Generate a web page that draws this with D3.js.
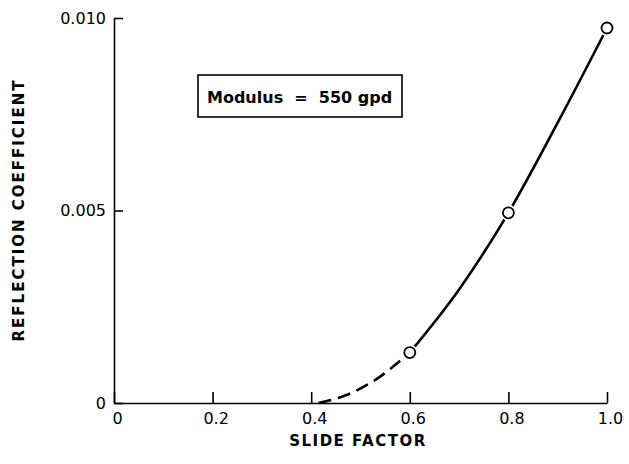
<!DOCTYPE html>
<html>
<head>
<meta charset="utf-8">
<script src="https://cdn.jsdelivr.net/npm/d3@7"></script>
<style>
  body { margin: 0; background: #fff; }
  svg { display: block; }
  text { font-family: "DejaVu Sans", sans-serif; fill: #000; }
</style>
</head>
<body>
<div id="app"></div>
<script>
// measured points
let pointX = [0.6, 0.8, 1.0];
let pointY = [0.00131, 0.00494, 0.00974];

// faired curve, dashed part then solid part
let dashX = [0.415, 0.47, 0.53, 0.6];
let dashY = [0.0, 0.0002, 0.0006, 0.00131];
let solidX = [0.6, 0.7, 0.8, 0.9, 1.0];
let solidY = [0.00131, 0.00295, 0.00494, 0.00728, 0.00974];

let xTicks = [0, 0.2, 0.4, 0.6, 0.8, 1.0];
let xTickLabels = ['0', '0.2', '0.4', '0.6', '0.8', '1.0'];
let yTicks = [0, 0.005, 0.010];
let yTickLabels = ['0', '0.005', '0.010'];

let legendText = 'Modulus  =  550 gpd';

let width = 629;
let height = 464;

let xScale = d3.scaleLinear()
               .domain([0, 1.0])
               .range([114, 607])

let yScale = d3.scaleLinear()
               .domain([0, 0.010])
               .range([403, 18])

let svg = d3.select('#app').append('svg')
    .attr('width', width)
    .attr('height', height)

// x axis, ticks pointing up into the plot
let xAxis = d3.axisBottom(xScale)
    .tickValues(xTicks)
    .tickFormat((d, i) => xTickLabels[i])
    .tickSize(-11)
    .tickSizeOuter(0)
    .tickPadding(10)

let gx = svg.append('g')
    .attr('transform', 'translate(0,' + yScale(0) + ')')
    .call(xAxis)
gx.select('.domain').attr('stroke', '#000').attr('stroke-width', 1.6)
gx.selectAll('.tick line').attr('stroke', '#000').attr('stroke-width', 1.6)
gx.selectAll('.tick text')
    .style('font-family', '"DejaVu Sans", sans-serif')
    .style('font-size', '16px')
    .attr('dx', 3)

// y axis, ticks pointing right into the plot
let yAxis = d3.axisLeft(yScale)
    .tickValues(yTicks)
    .tickFormat((d, i) => yTickLabels[i])
    .tickSize(-9)
    .tickSizeOuter(0)
    .tickPadding(8)

let gy = svg.append('g')
    .attr('transform', 'translate(' + xScale(0) + ',0)')
    .call(yAxis)
gy.select('.domain').attr('stroke', '#000').attr('stroke-width', 1.6)
gy.selectAll('.tick line').attr('stroke', '#000').attr('stroke-width', 1.6)
gy.selectAll('.tick text')
    .style('font-family', '"DejaVu Sans", sans-serif')
    .style('font-size', '16px')

// axis titles
svg.append('text')
    .attr('x', 358)
    .attr('y', 446)
    .attr('text-anchor', 'middle')
    .style('font-size', '15px')
    .style('font-weight', 'bold')
    .style('letter-spacing', '1.5px')
    .text('SLIDE FACTOR')

svg.append('text')
    .attr('transform', 'translate(24,' + 210 + ') rotate(-90)')
    .attr('text-anchor', 'middle')
    .style('font-size', '15px')
    .style('font-weight', 'bold')
    .style('letter-spacing', '2px')
    .text('REFLECTION  COEFFICIENT')

// curve
let line = d3.line()
    .x(d => xScale(d[0]))
    .y(d => yScale(d[1]))
    .curve(d3.curveMonotoneX)

svg.append('path')
    .datum(dashX.map((x, i) => [x, dashY[i]]))
    .attr('d', line)
    .attr('fill', 'none')
    .attr('stroke', '#000')
    .attr('stroke-width', 2.6)
    .attr('stroke-dasharray', '13,7')

svg.append('path')
    .datum(solidX.map((x, i) => [x, solidY[i]]))
    .attr('d', line)
    .attr('fill', 'none')
    .attr('stroke', '#000')
    .attr('stroke-width', 2.6)

// open circles with white halo to leave gap in the line
svg.selectAll('circle.pt')
    .data(pointX.map((x, i) => [x, pointY[i]]))
    .enter()
    .append('circle')
      .attr('class', 'pt')
      .attr('cx', d => xScale(d[0]))
      .attr('cy', d => yScale(d[1]))
      .attr('r', 5.5)
      .attr('fill', '#fff')
      .attr('stroke', '#fff')
      .attr('stroke-width', 5)

svg.selectAll('circle.mk')
    .data(pointX.map((x, i) => [x, pointY[i]]))
    .enter()
    .append('circle')
      .attr('class', 'mk')
      .attr('cx', d => xScale(d[0]))
      .attr('cy', d => yScale(d[1]))
      .attr('r', 5.5)
      .attr('fill', '#fff')
      .attr('stroke', '#000')
      .attr('stroke-width', 1.8)

// legend box
svg.append('rect')
    .attr('x', 198)
    .attr('y', 75)
    .attr('width', 204)
    .attr('height', 42)
    .attr('fill', 'none')
    .attr('stroke', '#000')
    .attr('stroke-width', 1.6)

svg.append('text')
    .attr('x', 207)
    .attr('y', 103)
    .style('font-size', '16px')
    .style('font-weight', 'bold')
    .style('white-space', 'pre')
    .text(legendText)
</script>
</body>
</html>
